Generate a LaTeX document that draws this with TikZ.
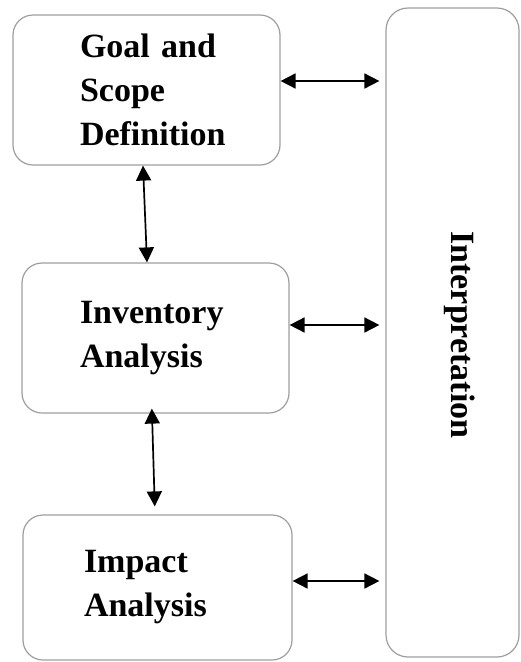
\documentclass[tikz,border=0pt]{standalone}
\usepackage{fontspec}
\setmainfont{Liberation Serif}
\usetikzlibrary{arrows.meta}

\tikzset{
	stagebox/.style={shape=rectangle, draw=black!38, line width=1.2pt,
		rounded corners=20pt, align=left, text width=175pt, inner xsep=46pt,
		font=\fontsize{34}{44}\selectfont\bfseries},
	link/.style={line width=1.7pt,
		{Triangle[length=15pt,width=15pt]}-{Triangle[length=15pt,width=15pt]}}
}

\begin{document}
\begin{tikzpicture}[x=1pt, y=-1pt]
	\useasboundingbox (0, 0) rectangle (520, 662);

	\node[stagebox, minimum width=267pt, minimum height=150pt]
		(goal) at (146.5, 90) {\hspace*{21pt}Goal and\\\hspace*{21pt}Scope\\\hspace*{21pt}Definition};
	\node[stagebox, minimum width=267pt, minimum height=150pt]
		(inventory) at (155.5, 338) {\hspace*{12pt}Inventory\\\hspace*{12pt}Analysis};
	\node[stagebox, minimum width=269pt, minimum height=145pt]
		(impact) at (157.5, 587.5) {\raisebox{6pt}{\hspace*{14pt}Impact}\\\raisebox{6pt}{\hspace*{14pt}Analysis}};

	\node[shape=rectangle, draw=black!38, line width=1.2pt, rounded corners=22pt,
		minimum width=133pt, minimum height=649pt]
		(interp) at (452.5, 332.5) {};
	\node[rotate=-90, font=\fontsize{34}{44}\selectfont\bfseries]
		(interplabel) at (460, 335) {Interpretation};

	\draw[link] ([xshift=-3.5pt]goal.south) -- ([xshift=-8.5pt]inventory.north);
	\draw[link, shorten <=-5pt, shorten >=8pt]
		([xshift=-3.5pt]inventory.south) -- ([xshift=-2.5pt]impact.north);

	\draw[link, shorten >=6pt]
		([yshift=9pt]goal.east) -- ([yshift=9pt]goal.east -| interp.west);
	\draw[link, shorten >=6pt]
		([yshift=13pt]inventory.east) -- ([yshift=13pt]inventory.east -| interp.west);
	\draw[link, shorten >=6pt]
		([yshift=6.5pt]impact.east) -- ([yshift=6.5pt]impact.east -| interp.west);
\end{tikzpicture}
\end{document}
